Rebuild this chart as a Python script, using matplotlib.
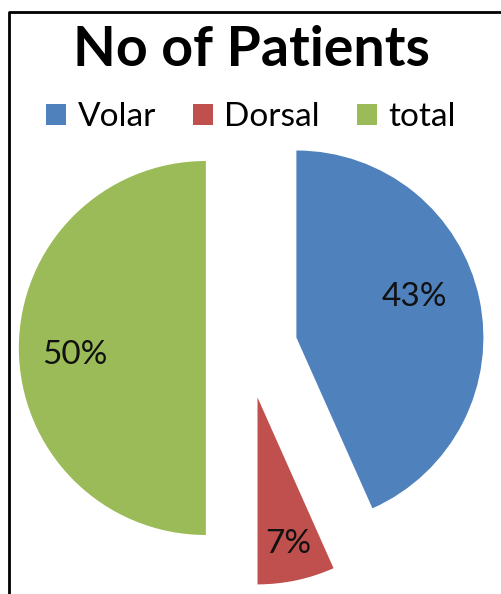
import math
import matplotlib
matplotlib.use("Agg")
import matplotlib.pyplot as plt
from matplotlib.lines import Line2D

labels = ["Volar", "Dorsal", "total"]
patients = [26, 4, 30]
colors = ["#4F81BD", "#C0504D", "#9BBB59"]
explode = [0.27, 0.27, 0.22]
label_dist = [0.67, 0.8, 0.7]
label_turn = [7, 0, 3]  # degrees nudged from wedge middle

plt.rcParams["font.family"] = ["Lato", "DejaVu Sans"]

W, H = 502, 594
fig = plt.figure(figsize=(W / 100, H / 100), dpi=100)
fig.patch.set_facecolor("white")

# pie centre in pixels, radius in px
cx, cy, r = 247, 348, 187
ax = fig.add_axes([0, 0, 1, 1])
wedges, texts, autotexts = ax.pie(patients, colors=colors, explode=explode,
                                  startangle=90, counterclock=False,
                                  autopct="%1.0f%%", pctdistance=0.7,
                                  wedgeprops=dict(linewidth=0),
                                  textprops=dict(fontsize=24, color="#111111"))
for w, t, d, a in zip(wedges, autotexts, label_dist, label_turn):
    th = math.radians((w.theta1 + w.theta2) / 2 + a)
    x0, y0 = w.center
    t.set_position((x0 + d * math.cos(th), y0 + d * math.sin(th)))

ax.set_xlim(-cx / r, (W - cx) / r)
ax.set_ylim(-(H - cy) / r, cy / r)
ax.set_aspect("auto")
ax.axis("off")

fig.text(0.5, 1 - 50 / H, "No of Patients", ha="center", va="center",
         fontsize=40, fontweight="bold")
fig.legend(wedges, labels, loc="center", bbox_to_anchor=(0.5, 1 - 117 / H),
           ncol=3, frameon=False, fontsize=24, handlelength=0.6,
           handleheight=0.6, handletextpad=0.35, columnspacing=1.1)

# chart border (top and left edges visible)
fig.add_artist(Line2D([9 / W, 9 / W, 1], [0, 1 - 12 / H, 1 - 12 / H],
                      color="black", linewidth=2))

fig.savefig("out.png", dpi=100)
